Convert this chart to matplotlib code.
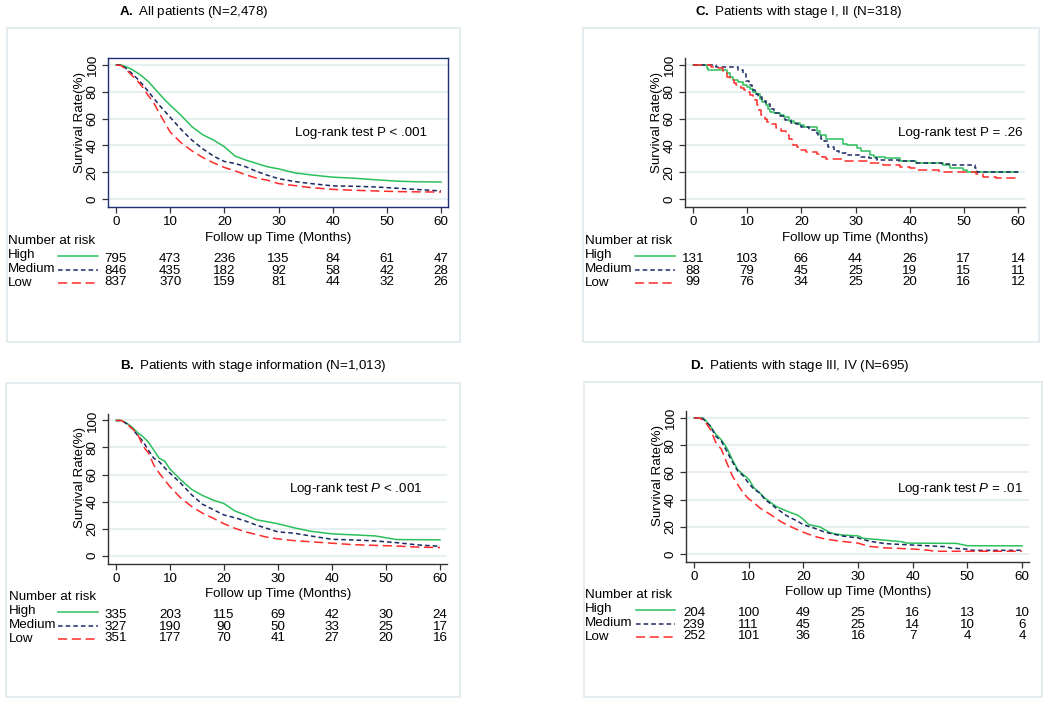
import matplotlib
matplotlib.use("Agg")
import matplotlib.pyplot as plt
from matplotlib.transforms import blended_transform_factory

W, H = 1050, 705

plt.rcParams['font.family'] = ['Liberation Sans', 'DejaVu Sans']
plt.rcParams['mathtext.fontset'] = 'custom'
plt.rcParams['mathtext.rm'] = 'Liberation Sans'
plt.rcParams['mathtext.it'] = 'Liberation Sans:italic'
plt.rcParams['mathtext.bf'] = 'Liberation Sans:bold'

groups = ["High", "Medium", "Low"]
riskTimes = [0, 10, 20, 30, 40, 50, 60]

# ---- A. All patients
titleA = r"$\mathbf{A.}$ All patients (N=2,478)"
pTextA = "Log-rank test P < .001"
timesA = [0, 1, 2, 3, 4, 5, 6, 7, 8, 9, 10, 12, 14, 16, 18, 20, 22, 24, 26, 28, 30, 33, 36, 40, 44, 48, 52, 56, 60]
highA = [100, 100, 98.5, 96.5, 94, 91, 87.5, 83, 78.5, 74, 70, 62.5, 54, 48, 44, 39, 32, 29, 26.5, 24,
         22.5, 19.5, 18, 16.3, 15.5, 14.3, 13.3, 12.8, 12.7]
medA = [100, 100, 97, 93.5, 89.5, 85, 80, 75, 70, 65.5, 61, 52, 44, 37.5, 32, 28, 26.5, 24, 20.5, 17.7,
        15.2, 13, 11.5, 9.8, 9.5, 9, 8, 7, 6]
lowA = [100, 99.5, 96, 92, 88, 83, 77, 71.5, 64, 57, 50, 42, 36, 31, 27, 23.5, 21, 18, 15.5, 14,
        11.5, 10, 8.5, 7.2, 6.5, 6, 5.5, 5.3, 5.2]
riskA = [[795, 473, 236, 135, 84, 61, 47],
         [846, 435, 182, 92, 58, 42, 28],
         [837, 370, 159, 81, 44, 32, 26]]

# ---- B. Patients with stage information
titleB = r"$\mathbf{B.}$ Patients with stage information (N=1,013)"
pTextB = r"Log-rank test $P$ < .001"
timesB = [0, 1, 2, 3, 4, 5, 6, 7, 8, 9, 10, 12, 14, 16, 18, 20, 22, 24, 26, 28, 30, 33, 36, 40, 44, 48, 52, 56, 60]
highB = [100, 100, 98, 95, 91, 88, 84, 78, 72, 70, 64, 56, 49, 44.5, 41, 38.5, 33, 30, 26.5, 25,
         23.5, 20.5, 18, 16, 15.3, 14.5, 11.8, 11.7, 11.6]
medB = [100, 100, 97.5, 94, 89, 84.5, 78, 72, 69.5, 65, 61, 53.5, 45, 38, 34, 30, 28, 25.5, 22.5, 20,
        17.5, 16.5, 14.5, 12, 11.5, 10.8, 9.5, 7.8, 6.8]
lowB = [100, 100, 97.5, 94, 90, 81, 76, 67, 61, 56, 51, 42.5, 36.3, 31.4, 27.6, 23.5, 20.2, 17.5, 15.5, 13.5,
        12.3, 11, 10.2, 9.1, 8, 7.5, 7, 6.2, 5.9]
riskB = [[335, 203, 115, 69, 42, 30, 24],
         [327, 190, 90, 50, 33, 25, 17],
         [351, 177, 70, 41, 27, 20, 16]]

# ---- C. Patients with stage I, II (step curves)
titleC = r"$\mathbf{C.}$ Patients with stage I, II (N=318)"
pTextC = "Log-rank test P = .26"
highCt = [0, 2.5, 2.8, 6.2, 6.8, 7.4, 8.3, 9.2, 10, 10.5, 11, 11.6, 12.3, 12.8, 13.4, 13.8, 14.2, 15, 16, 16.8,
          17.8, 18.6, 19.7, 20.5, 22.8, 23.5, 24.6, 27.7, 28.5, 30.2, 31, 32.6, 33.5, 35.5, 38.2, 41.2, 46.2,
          47.4, 49.8, 50.5, 60]
highCv = [100, 98, 96.3, 94, 91, 89, 87.5, 85, 83.5, 82, 80, 78, 75, 72.5, 70, 67, 65, 64, 63, 61,
          58.5, 56.5, 55, 53.5, 51, 48, 45, 41, 40, 38, 35.5, 33, 31.5, 30.5, 28.5, 26.6, 25.5,
          23.5, 21.6, 20.4, 20.4]
medCt = [0, 4.3, 8.3, 9.2, 9.8, 10.3, 10.8, 11.4, 12, 12.7, 13.5, 14.2, 15, 16, 17, 18, 19, 20, 21.5, 22.5,
         23, 23.7, 24.2, 25, 26, 27, 28.5, 31, 32.5, 34, 38, 41, 46, 47.5, 52, 52.5, 60]
medCv = [100, 98.3, 96, 93, 88, 85, 81, 78, 76, 73.5, 71, 67, 64, 62, 59, 57, 56, 53.5, 51.5, 49,
         47, 45, 43, 39, 36, 34, 33, 31.5, 30.3, 29, 28, 26.6, 26, 25.4, 23, 19.8, 19.8]
lowCt = [0, 3.4, 4.3, 5.5, 6.2, 6.8, 7.5, 8, 8.8, 9.5, 10, 10.5, 11, 11.4, 11.8, 12.2, 12.6, 13.2, 13.7, 14.2,
         15.4, 16.2, 17.2, 17.8, 18.2, 18.5, 19.2, 19.7, 20.9, 22.8, 23.8, 24.6, 27.7, 32.6, 35, 38.2, 40,
         41.2, 45.5, 48, 52.3, 53.5, 56, 60]
lowCv = [100, 98.8, 97.5, 94, 91, 89, 86.5, 85, 83, 81, 79.5, 77.5, 76, 74, 70, 66.5, 63, 60, 57.5, 56,
         53, 50.5, 48, 45, 42, 40, 38.5, 36.5, 35, 33.5, 31.5, 29.5, 28, 26.8, 25.5, 24, 22.9,
         21.6, 20.5, 20, 18.5, 16.5, 16, 16]
riskC = [[131, 103, 66, 44, 26, 17, 14],
         [88, 79, 45, 25, 19, 15, 11],
         [99, 76, 34, 25, 20, 16, 12]]

# ---- D. Patients with stage III, IV
titleD = r"$\mathbf{D.}$ Patients with stage III, IV (N=695)"
pTextD = r"Log-rank test $P$ = .01"
highDt = [0, 1.5, 2, 3, 4, 5, 6, 7, 8, 9, 10, 11, 12, 13, 14, 15, 17, 19, 20, 21, 23, 25, 27, 30, 31, 34,
          38, 39, 48, 50, 60]
highDv = [100, 100, 98.8, 94, 88, 84, 78, 69.5, 62, 58.5, 55, 48.5, 45, 41, 38, 35, 31.5, 28.5, 25.5, 21.5,
          20, 15.5, 14, 13.3, 11.5, 10.5, 9, 8, 7.8, 6.1, 6]
medDt = [0, 1.5, 2, 3, 4, 5, 6, 7, 8, 9, 10, 11, 12, 13, 14, 15, 17, 19, 20, 22, 24, 27, 30, 32, 35, 40,
         46, 47, 50, 51, 60]
medDv = [100, 100, 98, 94, 86.5, 83, 75.5, 68, 61, 57.5, 52, 47.5, 45, 40, 37, 33.8, 28, 24, 21.5, 19,
         16, 13.3, 11.8, 9.5, 7.6, 6.6, 5.4, 4.4, 3.5, 2.7, 2.7]
lowDt = [0, 1, 2, 3, 4, 5, 6, 7, 8, 9, 10, 11, 12, 14, 16, 18, 20, 22, 24, 27, 30, 32, 35, 40, 43, 44, 60]
lowDv = [100, 100, 97.5, 91.5, 82, 77, 67, 57.5, 51, 45, 40.5, 37.7, 34, 29, 23.5, 19.5, 16, 13, 11,
         9.3, 8, 5.6, 4.5, 3.7, 2.7, 2, 2]
riskD = [[204, 100, 49, 25, 16, 13, 10],
         [239, 111, 45, 25, 14, 10, 6],
         [252, 101, 36, 16, 7, 4, 4]]

# styles
COLORS = ['#2cc05c', '#1b2a63', '#ff2b2b']
DASHES = [None, (3, 2), (6, 3)]
GRID = '#e2ebee'
FRAME = '#e3ebee'
FS = 9.6
XLIM = (-1.5, 61.3)
YLIM = (-6, 105)


def fy(py):
    return 1 - py / H


def styled_plot(ax, x, y, i, **kw):
    line, = ax.plot(x, y, color=COLORS[i], lw=1.1, **kw)
    if DASHES[i]:
        line.set_dashes(DASHES[i])
    return line


def draw_panel(fig, frame, titlePos, title, mapping, curves, steps, pText, pPos, risk, riskY, boxed):
    # light panel frame
    fx0, fy0, fx1, fy1 = frame
    fig.add_artist(plt.Rectangle((fx0 / W, fy(fy1)), (fx1 - fx0) / W, (fy1 - fy0) / H,
                                 transform=fig.transFigure, fill=False, edgecolor=FRAME, lw=1.3))
    fig.text(titlePos[0] / W, fy(titlePos[1]), title, ha='center', va='center', fontsize=FS)

    x0, x60, y100, y0 = mapping
    sx = (x60 - x0) / 60
    sy = (y0 - y100) / 100
    left = x0 + XLIM[0] * sx
    right = x0 + XLIM[1] * sx
    top = y0 - YLIM[1] * sy
    bottom = y0 - YLIM[0] * sy
    ax = fig.add_axes([left / W, fy(bottom), (right - left) / W, (bottom - top) / H])
    ax.set_xlim(*XLIM)
    ax.set_ylim(*YLIM)

    for i, (t, s) in enumerate(curves):
        styled_plot(ax, t, s, i, drawstyle='steps-post' if steps else 'default')

    ax.set_xticks(riskTimes)
    ax.set_yticks(range(0, 101, 20))
    ax.tick_params(direction='out', length=4.5, width=0.9, labelsize=FS, pad=2,
                   color='#333333')
    ax.tick_params(axis='y', labelrotation=90)
    for lab in ax.get_yticklabels():
        lab.set_va('center')
    ax.yaxis.grid(True, color=GRID, lw=1.1)
    ax.set_axisbelow(True)

    if boxed:
        for sp in ax.spines.values():
            sp.set_color('#1d2f72')
            sp.set_linewidth(1.0)
    else:
        ax.spines['top'].set_visible(False)
        ax.spines['right'].set_visible(False)
        for sp in ('left', 'bottom'):
            ax.spines[sp].set_color('#333333')
            ax.spines[sp].set_linewidth(1.0)

    ax.set_ylabel("Survival Rate(%)", fontsize=FS)
    ax.yaxis.set_label_coords(x0 - 36, fy(y100 + 57), transform=blended_transform_factory(
        matplotlib.transforms.IdentityTransform(), fig.transFigure))
    ax.yaxis.label.set_va('center')
    ax.yaxis.set_label_coords((x0 - 36 - left) / (right - left), (bottom - (y100 + 57)) / (bottom - top))

    ax.text(pPos[0], pPos[1], pText, ha='right', va='center', fontsize=FS)

    # number at risk table
    trans = blended_transform_factory(ax.transData, fig.transFigure)
    ax.text(30, fy(riskY - 3), "Follow up Time (Months)", transform=trans, ha='center', va='center',
            fontsize=FS)
    ax.text(-19.9, fy(riskY), "Number at risk", transform=trans, ha='left', va='center', fontsize=FS)
    labelOff = [14, 28, 42]
    numOff = [18, 30, 41]
    lineOff = [15, 29, 42]
    for i, g in enumerate(groups):
        ax.text(-19.9, fy(riskY + labelOff[i]), g, transform=trans, ha='left', va='center', fontsize=FS)
        styled_plot(ax, [-10.7, -3.4], [fy(riskY + lineOff[i])] * 2, i, transform=trans, clip_on=False)
        for t, n in zip(riskTimes, risk[i]):
            ax.text(t, fy(riskY + numOff[i]), str(n), transform=trans, ha='center', va='center',
                    fontsize=FS)
    return ax


fig = plt.figure(figsize=(W / 100, H / 100), dpi=100)

draw_panel(fig, (7, 28, 460, 342), (194, 12), titleA, (116, 441, 65, 199),
           [(timesA, highA), (timesA, medA), (timesA, lowA)], False, pTextA, (57.4, 49), riskA, 241, True)
draw_panel(fig, (6, 383, 460, 697), (253, 366), titleB, (116, 440, 420.5, 555.5),
           [(timesB, highB), (timesB, medB), (timesB, lowB)], False, pTextB, (56.7, 49), riskB, 597, False)
draw_panel(fig, (583, 28, 1039, 342), (799, 12), titleC, (693, 1018, 65, 199),
           [(highCt, highCv), (medCt, medCv), (lowCt, lowCv)], True, pTextC, (60.9, 49), riskC, 241, False)
draw_panel(fig, (584, 382, 1042, 697), (800, 366), titleD, (694, 1022, 418, 554),
           [(highDt, highDv), (medDt, medDv), (lowDt, lowDv)], False, pTextD, (60.2, 48), riskD, 595, False)

fig.savefig("out.png", dpi=100, facecolor='white')
